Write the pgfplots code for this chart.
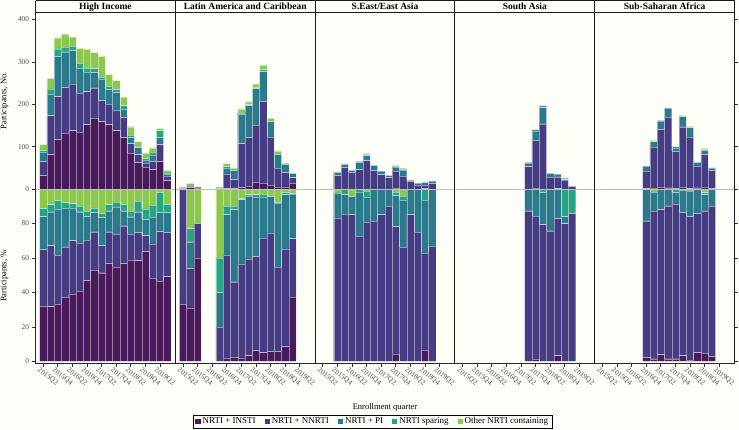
\documentclass[border=0pt]{standalone}
\usepackage{fontspec}
\setmainfont{Liberation Serif}
\usepackage{pgfplots}
\usepackage{pgfplotstable}
\pgfplotsset{compat=1.18}

\definecolor{bgcol}{RGB}{254,254,249}
\definecolor{cI}{HTML}{491B5D}
\definecolor{cN}{HTML}{453C84}
\definecolor{cP}{HTML}{2A7A8C}
\definecolor{cS}{HTML}{27A583}
\definecolor{cO}{HTML}{8CC84B}
\definecolor{frame}{RGB}{40,40,40}

% counts: a = NRTI+INSTI, b = NRTI+NNRTI, c = NRTI+PI, d = NRTI sparing, e = Other NRTI containing
\pgfplotstableread{
x a b c d e
0 32 33 22 4 14
1 81 92 51 12 25
2 117 101 95 18 26
3 132 108 84 11 31
4 138 110 79 10 22
5 134 92 59 13 34
6 152 78 46 9 45
7 167 72 36 9 38
8 159 50 51 5 48
9 152 49 34 8 27
10 138 49 41 7 21
11 122 47 20 8 20
12 85 22 15 5 20
13 63 18 17 4 10
14 52 9 8 3 13
15 46 19 15 7 10
16 65 40 17 16 5
17 20 11 5 2 6
}\HIc
\pgfplotstableread{
x a b c d e
0 32.2 32.8 19.0 4.8 11.2
1 31.8 35.4 19.6 4.1 9.1
2 33.3 28.3 26.8 5.0 6.6
3 37.2 29.3 22.6 3.1 7.8
4 39.1 30.9 19.1 2.4 8.5
5 40.9 27.9 18.0 3.5 9.7
6 46.9 23.6 13.6 3.1 12.8
7 52.9 22.3 11.2 2.7 10.9
8 51.4 15.7 16.4 2.4 14.1
9 56.8 18.4 12.2 3.5 9.1
10 54.8 19.0 15.9 2.9 7.4
11 56.8 21.9 8.7 3.7 8.9
12 58.9 15.1 9.9 3.3 12.8
13 58.5 16.3 12.0 6.2 7.0
14 63.8 9.1 9.5 6.0 11.6
15 48.3 19.9 15.5 7.0 9.3
16 46.7 28.7 11.0 11.7 1.9
17 49.2 25.6 11.6 4.7 8.9
}\HIp
\pgfplotstableread{
x a b c d e
0 1 2 0 0 0
1 4 3 2 1 3
2 3 1 0 0 1
5 0 1 1 1 2
6 1 35 14 3 7
7 1 22 21 1 5
8 4 103 70 2 10
9 7 115 75 2 7
10 16 135 86 3 8
11 14 193 70 5 10
12 9 114 36 2 6
13 5 44 33 1 7
14 5 34 19 1 2
15 14 13 10 0 1
}\LAc
\pgfplotstableread{
x a b c d e
0 33.3 66.7 0 0 0
1 31.0 23.0 15.4 7.6 23.0
2 60 20 0 0 20
5 0 20 20 20 40
6 1.9 59.8 23.4 5.2 9.7
7 2.5 43.7 41.8 2.0 10.0
8 2.0 54.5 37.3 0.8 5.4
9 3.3 56.1 36.7 0.6 3.3
10 6.4 54.5 34.5 1.3 3.3
11 5.0 66.6 23.8 1.7 2.9
12 5.8 68.7 21.2 0.4 3.9
13 5.8 48.9 37.2 0.4 7.7
14 8.7 56.5 31.5 1.4 1.9
15 37.3 33.9 25.9 0.3 2.6
}\LAp
\pgfplotstableread{
x a b c d e
2 0 32 7 0 2
3 0 51 7 2 0
4 0 39 5 0 2
5 0 46 17 2 0
6 0 67 12 3 2
7 0 44 12 0 0
8 0 34 8 0 0
9 0 27 5 0 0
10 2 40 10 1 3
11 0 31 14 1 3
12 0 18 3 0 0
13 0 10 4 0 0
14 1 9 5 1 0
15 0 13 6 0 0
}\SEc
\pgfplotstableread{
x a b c d e
2 0 83.2 14.5 0 2.3
3 0 85.5 11.2 3.3 0
4 0 85.1 10.6 0.3 4.0
5 0 72.7 25.6 1.7 0
6 0 80.9 14.5 3.3 1.3
7 0 81.4 18.6 0 0
8 0 85.1 14.9 0 0
9 0 90.1 9.9 0 0
10 4.3 73.9 18.1 2.0 1.7
11 0 66.2 27.5 2.1 4.2
12 0 85.1 14.9 0 0
13 0 75.0 25.0 0 0
14 6.6 56.3 30.7 6.4 0
15 0 66.9 33.1 0 0
}\SEp
\pgfplotstableread{
x a b c d e
9 0 53 9 0 0
10 2 113 22 3 0
11 0 154 38 5 0
12 0 28 9 0 0
13 1 28 6 0 0
14 0 21 1 4 0
15 0 6 0 1 0
}\SAc
\pgfplotstableread{
x a b c d e
9 0 87.4 12.6 0 0
10 1.4 82.9 15.7 0 0
11 0 79.3 18.8 1.9 0
12 0 75.8 24.2 0 0
13 3.3 79.7 17.0 0 0
14 0 79.9 4.1 16.0 0
15 0 85.9 0 14.1 0
}\SAp
\pgfplotstableread{
x a b c d e
6 1 41 12 0 0
7 2 97 13 0 3
8 5 136 19 2 0
9 3 167 21 0 0
10 1 88 8 3 0
11 5 142 24 0 3
12 1 122 22 0 2
13 3 51 9 0 0
14 5 77 9 1 3
15 1 43 6 0 0
}\SSc
\pgfplotstableread{
x a b c d e
6 2.3 79.3 18.4 0 0
7 1.5 85.7 11.1 0 1.7
8 3.9 84.1 12.0 0 0
9 1.5 88.8 9.7 0 0
10 1.5 89.8 6.8 1.9 0
11 3.3 83.2 13.0 0 0.5
12 0.8 83.3 14.9 0 1.0
13 5.2 80.7 14.1 0 0
14 4.8 82.6 9.3 1.2 2.1
15 2.9 87.2 9.9 0 0
}\SSp

\newcommand{\bars}[1]{%
  \addplot[fill=cI] table[x=x,y=a]{#1};
  \addplot[fill=cN] table[x=x,y=b]{#1};
  \addplot[fill=cP] table[x=x,y=c]{#1};
  \addplot[fill=cS] table[x=x,y=d]{#1};
  \addplot[fill=cO] table[x=x,y=e]{#1};
}

\pgfplotsset{
  base/.style={
    scale only axis, width=139.8pt,
    xmin=-1.05, xmax=18.1, enlargelimits=false,
    ybar stacked, bar width=1,
    axis line style={draw=none},
    tick align=outside, major tick length=3pt,
    tick style={draw=black!80, line width=0.6pt},
    tick label style={font=\fontsize{7.3}{8}\selectfont, text=black!70},
    label style={font=\fontsize{8.5}{10}\selectfont},
    /pgf/number format/assume math mode=true,
    every axis plot/.append style={draw=white, draw opacity=0.45, line width=0.4pt},
    anchor=north west,
  },
  up/.style={base, height=176.2pt, ymin=0, ymax=415.8, xtick=\empty,
    every axis title/.style={at={(axis description cs:0.5,1)}, anchor=base, yshift=3.4pt,
      font=\bfseries\fontsize{9.5}{10}\selectfont}},
  lo/.style={base, height=174.5pt, ymin=-1.28, ymax=100,
    xtick={0,2,...,16}, xtick pos=left,
    xticklabels={2015Q2,2015Q4,2016Q2,2016Q4,2017Q2,2017Q4,2018Q2,2018Q4,2019Q2},
    xticklabel style={rotate=-38, anchor=north west, inner sep=0.5pt, xshift=-2.5pt, yshift=-1.5pt}},
}

\begin{document}
\begin{tikzpicture}
\path[use as bounding box, fill=bgcol] (0pt,0pt) rectangle (739pt,-429pt);

% ---------- upper (counts) ----------
\begin{axis}[up, at={(35.5pt,-12.8pt)}, ytick={0,100,...,400}, ytick pos=left,
  ylabel={Participants, No.}, ylabel style={at={(axis description cs:-0.222,0.5)}, anchor=center},
  title={High Income}]
\bars{\HIc}
\end{axis}
\begin{axis}[up, at={(175.3pt,-12.8pt)}, ytick=\empty, title={Latin America and Caribbean}]
\bars{\LAc}
\end{axis}
\begin{axis}[up, at={(315.1pt,-12.8pt)}, ytick=\empty, title={S.East/East Asia}]
\bars{\SEc}
\end{axis}
\begin{axis}[up, at={(454.9pt,-12.8pt)}, ytick=\empty, title={South Asia}]
\bars{\SAc}
\end{axis}
\begin{axis}[up, at={(594.7pt,-12.8pt)}, ytick={0,100,...,400}, ytick pos=right, yticklabels={},
  title={Sub-Saharan Africa}]
\bars{\SSc}
\end{axis}

% ---------- lower (percent) ----------
\begin{axis}[lo, at={(35.5pt,-189pt)}, ytick={0,20,...,80}, ytick pos=left,
  ylabel={Participants, \%}, ylabel style={at={(axis description cs:-0.222,0.5)}, anchor=center}]
\bars{\HIp}
\end{axis}
\begin{axis}[lo, at={(175.3pt,-189pt)}, ytick=\empty]
\bars{\LAp}
\end{axis}
\begin{axis}[lo, at={(315.1pt,-189pt)}, ytick=\empty,
  xlabel={Enrollment quarter}, xlabel style={at={(axis description cs:0.5,-0.249)}, anchor=center},
  legend columns=5,
  legend style={at={(axis description cs:0.413,-0.371)}, anchor=south, draw=black, line width=0.7pt,
    fill=bgcol, font=\fontsize{9}{9.5}\selectfont, inner xsep=2pt, inner ysep=0.6pt,
    /tikz/every even column/.append style={column sep=7pt}},
  legend image code/.code={\fill[#1, draw=none] (0pt,-2.6pt) rectangle (5.2pt,2.6pt);}]
\bars{\SEp}
\legend{NRTI + INSTI, NRTI + NNRTI, NRTI + PI, NRTI sparing, Other NRTI containing}
\end{axis}
\begin{axis}[lo, at={(454.9pt,-189pt)}, ytick=\empty]
\bars{\SAp}
\end{axis}
\begin{axis}[lo, at={(594.7pt,-189pt)}, ytick={0,20,...,80}, ytick pos=right, yticklabels={}]
\bars{\SSp}
\end{axis}

% ---------- frame ----------
\draw[black!25, line width=0.8pt] (35.5pt,-189pt) -- (734.5pt,-189pt);
\draw[frame, line width=0.8pt] (35.5pt,-363.5pt) -- (734.5pt,-363.5pt);
\draw[frame, line width=0.8pt] (35.5pt,-0.5pt) -- (35.5pt,-363.5pt);
\foreach \xx in {175.3,315.1,454.9,594.7,734.5}{
  \draw[black!90, line width=1.1pt] (\xx pt,-0.5pt) -- (\xx pt,-363.5pt);
}
\draw[black!90, line width=0.8pt] (35.5pt,-0.4pt) -- (734.5pt,-0.4pt);
\draw[black!90, line width=1.2pt] (35.5pt,-12.8pt) -- (734.5pt,-12.8pt);
\end{tikzpicture}
\end{document}
